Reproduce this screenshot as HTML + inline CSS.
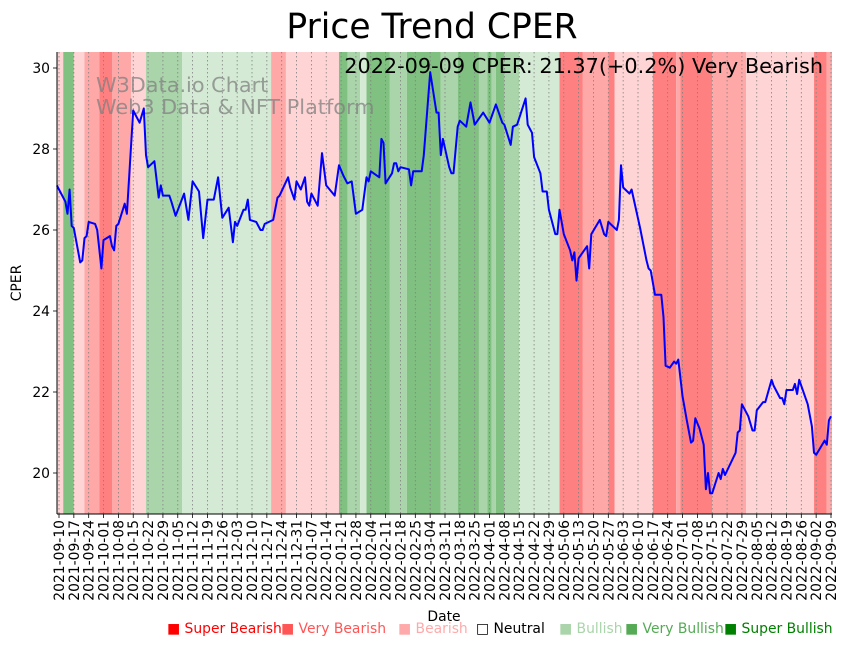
<!DOCTYPE html>
<html><head><meta charset="utf-8"><style>
html,body{margin:0;padding:0;background:#fff;}
svg{display:block;font-family:"DejaVu Sans","Liberation Sans",sans-serif;}
</style></head><body>
<svg id="chart" width="848" height="646" viewBox="0 0 848 646" xmlns="http://www.w3.org/2000/svg">
<g id="bands"></g>
<g id="grid"></g>
<g id="wm">
<text x="96" y="92" font-size="20.8" fill="#808080" fill-opacity="0.75">W3Data.io Chart</text>
<text x="96" y="114" font-size="20.8" fill="#808080" fill-opacity="0.75">Web3 Data &amp; NFT Platform</text>
</g>
<path id="line" fill="none" stroke="#0000ff" stroke-width="2" stroke-linejoin="round"/>
<g id="axes"></g>
<text x="432" y="38" font-size="34.5" text-anchor="middle">Price Trend CPER</text>
<text x="823" y="73" font-size="20.8" text-anchor="end">2022-09-09 CPER: 21.37(+0.2%) Very Bearish</text>
<text x="21" y="283" font-size="13.9" text-anchor="middle" transform="rotate(-90 21 283)">CPER</text>
<text x="444" y="621" font-size="13.9" text-anchor="middle">Date</text>
<g id="legend"></g>
</svg>
<script>
const days=[-1,0,3,4,5,6,7,10,11,12,13,14,17,18,20,21,24,25,26,27,28,31,32,35,38,40,41,42,45,47,48,49,52,53,55,59,61,63,66,68,70,73,75,77,80,82,83,84,87,88,89,90,93,95,96,97,99,101,103,104,108,109,111,112,114,116,117,118,119,122,124,126,130,132,134,136,138,140,143,145,146,147,151,152,153,154,157,158,159,160,161,165,166,167,171,172,175,178,179,180,181,184,185,186,188,189,192,194,196,200,203,206,209,210,213,214,216,220,221,223,224,227,228,230,231,234,235,236,238,241,242,243,244,245,249,250,251,255,257,258,259,263,264,265,266,269,270,274,277,278,279,281,284,285,286,288,290,291,292,294,296,298,299,300,302,304,305,306,307,308,311,312,313,314,319,320,321,322,325,327,328,329,332,333,336,337,340,341,342,343,346,347,348,349,353,355,356,357,361,362,363,364];
const prices=[27.1,27.0,26.7,26.4,27.0,26.1,26.05,25.2,25.25,25.8,25.85,26.2,26.15,26.0,25.05,25.75,25.85,25.6,25.5,26.1,26.15,26.65,26.4,28.95,28.65,29.0,27.85,27.55,27.7,26.8,27.1,26.85,26.85,26.7,26.35,26.9,26.25,27.2,26.95,25.8,26.75,26.75,27.3,26.3,26.55,25.7,26.2,26.1,26.5,26.5,26.75,26.25,26.2,26.0,26.0,26.15,26.2,26.25,26.8,26.85,27.3,27.05,26.75,27.2,27.0,27.3,26.7,26.6,26.9,26.6,27.9,27.1,26.85,27.6,27.35,27.15,27.2,26.4,26.5,27.3,27.2,27.45,27.3,28.25,28.15,27.15,27.4,27.65,27.65,27.45,27.55,27.5,27.1,27.45,27.45,27.85,29.9,28.9,28.9,27.85,28.25,27.55,27.4,27.4,28.55,28.7,28.55,29.15,28.6,28.9,28.65,29.1,28.65,28.6,28.1,28.55,28.6,29.25,28.6,28.4,27.8,27.4,26.95,26.95,26.5,25.9,25.9,26.5,25.9,25.5,25.25,25.45,24.75,25.3,25.6,25.05,25.9,26.25,25.9,25.85,26.2,26.0,26.25,27.6,27.05,26.9,27.0,26.05,25.25,25.05,25.0,24.4,24.4,23.85,22.65,22.6,22.75,22.7,22.8,21.9,21.3,20.75,20.8,21.35,21.1,20.7,19.6,20.0,19.5,19.5,20.0,19.85,20.1,19.95,20.5,21.0,21.05,21.7,21.4,21.05,21.05,21.55,21.75,21.75,22.3,22.15,21.85,21.85,21.7,22.05,22.05,22.2,21.95,22.3,21.7,21.15,20.5,20.45,20.8,20.7,21.3,21.4];
const bandStarts=[-1,2,7,12,19,25,34,41,58,100,107,132,136,142,145,156,164,180,188,198,202,204,206,210,217,236,247,259,262,280,291,293,308,324,356,362];
const bandLevels=[-1,3,-1,-2,-3,-2,-1,2,1,-2,-1,3,2,1,3,2,3,2,3,2,3,2,3,2,1,-3,-2,-3,-1,-3,-2,-3,-2,-1,-3,-2];
const yTicks=[20,22,24,26,28,30];
const legendLabels=["Super Bearish","Very Bearish","Bearish","Neutral","Bullish","Very Bullish","Super Bullish"];
const startDate="2021-09-10";
const tickCount=53;

const NS="http://www.w3.org/2000/svg";
const L=57,R=832,T=52,B=514;
const X=d=>59+d*(772/364);
const Y=v=>68+(30-v)*40.5;
const bandColor={"-3":"#ff8080","-2":"#ffa8a8","-1":"#ffd4d4","0":"none","1":"#d4ead4","2":"#aad4aa","3":"#80c080"};
function mk(tag,attrs,parent){const e=document.createElementNS(NS,tag);for(const k in attrs)e.setAttribute(k,attrs[k]);parent.appendChild(e);return e;}

const bg=document.getElementById('bands');
for(let i=0;i<bandStarts.length;i++){
  const x0=Math.max(L,X(bandStarts[i]));
  const x1=Math.min(R,X(i+1<bandStarts.length?bandStarts[i+1]:365));
  const r=mk('rect',{x:x0,y:T,width:Math.max(0,x1-x0),height:B-T,fill:bandColor[bandLevels[i]]},bg);
  
  
}

const grid=document.getElementById('grid');
const axes=document.getElementById('axes');
const sd=new Date(startDate+"T00:00:00Z");
for(let i=0;i<tickCount;i++){
  const d=i*7;const x=X(d);
  const gl=mk('line',{x1:x,x2:x,y1:T,y2:B,stroke:'#808080','stroke-width':0.8,'stroke-dasharray':'1.5,2.5'},grid);
  
  
  mk('line',{x1:x,x2:x,y1:B,y2:B+4,stroke:'#000','stroke-width':0.8},axes);
  const dt=new Date(sd.getTime()+d*86400000);
  const lab=dt.toISOString().slice(0,10);
  const t=mk('text',{x:0,y:0,'font-size':13.9,'text-anchor':'end',transform:`translate(${x+5},${B+6}) rotate(-90)`},axes);
  t.textContent=lab;
  
  
}
yTicks.forEach(v=>{
  const y=Y(v);
  mk('line',{x1:L-4,x2:L,y1:y,y2:y,stroke:'#000','stroke-width':0.8},axes);
  const t=mk('text',{x:L-7,y:y+5,'font-size':13.9,'text-anchor':'end'},axes);
  t.textContent=v;
  
  
});
mk('line',{x1:L,x2:L,y1:T,y2:B,stroke:'#000','stroke-width':1},axes);
mk('line',{x1:L,x2:R,y1:B,y2:B,stroke:'#000','stroke-width':1},axes);

document.getElementById('line').setAttribute('d',days.map((d,i)=>(i?'L':'M')+X(d).toFixed(1)+','+Y(prices[i]).toFixed(1)).join(''));

const lg=document.getElementById('legend');
const legColors=["#ff0000","#ff5555","#ffaaaa","#000000","#aad4aa","#55aa55","#008000"];
const legX=[167,281,398,476,559,625,724];
legendLabels.forEach((s,i)=>{
  const t=mk('text',{x:legX[i],y:633,'font-size':13.9,fill:legColors[i]},lg);
  t.textContent=(i===3?'\u25A1 ':'\u25A0 ')+s;
  
  
});
</script>
</body></html>
